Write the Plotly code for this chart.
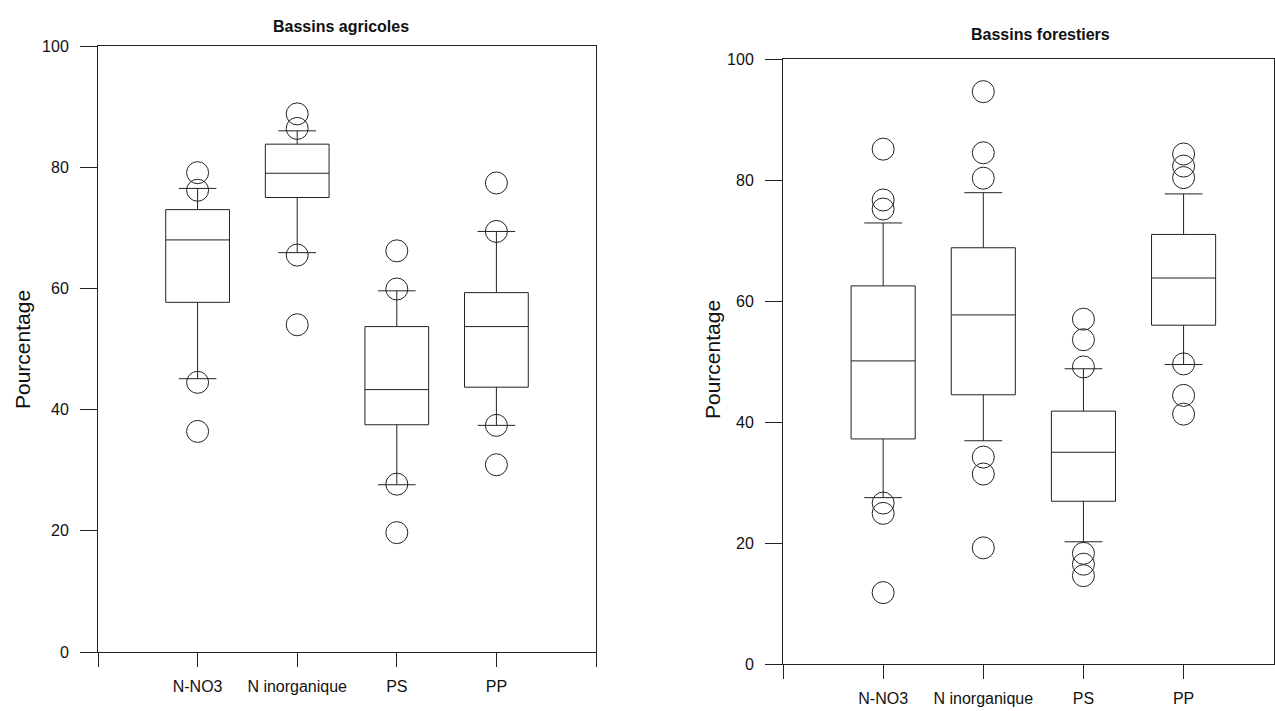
import plotly.graph_objects as go

categories = ["N-NO3", "N inorganique", "PS", "PP"]

# Bassins agricoles
agr_q1 = [57.7, 75.0, 37.5, 43.7]
agr_median = [68.0, 79.0, 43.3, 53.7]
agr_q3 = [73.0, 83.8, 53.7, 59.3]
agr_low = [45.1, 65.9, 27.6, 37.4]
agr_high = [76.5, 86.0, 59.6, 69.4]
agr_out_cat = [0, 0, 0, 0, 1, 1, 1, 1, 2, 2, 2, 2, 3, 3, 3, 3]
agr_out_val = [79.1, 76.2, 44.5, 36.4, 88.8, 86.4, 65.5, 54.0,
               66.2, 59.9, 27.7, 19.7, 77.4, 69.4, 37.4, 30.9]

# Bassins forestiers
for_q1 = [37.2, 44.5, 26.9, 56.0]
for_median = [50.1, 57.7, 35.0, 63.8]
for_q3 = [62.5, 68.8, 41.8, 71.0]
for_low = [27.5, 36.9, 20.2, 49.5]
for_high = [72.9, 77.9, 48.8, 77.7]
for_out_cat = [0, 0, 0, 0, 0, 0, 1, 1, 1, 1, 1, 1, 2, 2, 2, 2, 2, 2, 3, 3, 3, 3, 3, 3]
for_out_val = [85.1, 76.7, 75.2, 26.6, 24.9, 11.8,
               94.6, 84.5, 80.3, 34.2, 31.4, 19.2,
               57.0, 53.6, 49.1, 18.3, 16.5, 14.6,
               84.3, 82.3, 80.4, 49.6, 44.4, 41.3]

y_ticks = [0, 20, 40, 60, 80, 100]

FONT = "Liberation Sans, Arial, sans-serif"
INK = "#222222"
W, H = 1275, 711

fig = go.Figure()
pos = list(range(len(categories)))


def add_panel(q1, med, q3, lo, hi, oc, ov, xa, ya):
    fig.add_trace(go.Box(
        x=pos, q1=q1, median=med, q3=q3, lowerfence=lo, upperfence=hi,
        width=0.64, whiskerwidth=0.59, boxpoints=False,
        fillcolor="white", line=dict(color=INK, width=1),
        xaxis=xa, yaxis=ya, showlegend=False, hoverinfo="skip"))
    fig.add_trace(go.Scatter(
        x=oc, y=ov, mode="markers",
        marker=dict(symbol="circle-open", size=22, color=INK,
                    line=dict(color=INK, width=1)),
        xaxis=xa, yaxis=ya, showlegend=False, hoverinfo="skip"))


add_panel(agr_q1, agr_median, agr_q3, agr_low, agr_high, agr_out_cat, agr_out_val, "x", "y")
add_panel(for_q1, for_median, for_q3, for_low, for_high, for_out_cat, for_out_val, "x2", "y2")

tickvals_x = [-1] + pos + [4]
ticktext_x = [""] + categories + [""]

xcommon = dict(tickvals=tickvals_x, ticktext=ticktext_x, ticks="outside", ticklen=14,
               tickcolor=INK, showline=True, linecolor=INK, linewidth=1, mirror=True,
               showgrid=False, zeroline=False, automargin=False, ticklabelstandoff=6,
               tickfont=dict(family=FONT, size=16, color="#111"))
ycommon = dict(range=[0, 100], tickvals=y_ticks, ticks="outside", ticklen=17,
               tickcolor=INK, showline=True, linecolor=INK, linewidth=1, mirror=True,
               showgrid=False, zeroline=False, ticklabelstandoff=8, automargin=False,
               tickfont=dict(family=FONT, size=16, color="#111"))


def fx(px):
    return px / W


def fy(py):
    return (H - py) / H


def label(text, x, y, size, angle=0):
    return dict(text=text, x=fx(x), y=fy(y), xref="paper", yref="paper",
                xanchor="center", yanchor="middle", showarrow=False, textangle=angle,
                font=dict(family=FONT, size=size, color="#111"))


fig.update_layout(
    width=W, height=H, margin=dict(l=0, r=0, t=0, b=0, autoexpand=False),
    paper_bgcolor="white", plot_bgcolor="white",
    xaxis=dict(domain=[fx(98), fx(596)], range=[-1, 4], anchor="y", **xcommon),
    yaxis=dict(domain=[fy(652), fy(46)], anchor="x", **ycommon),
    xaxis2=dict(domain=[fx(783), 0.999], range=[-1, 3.9], anchor="y2", **xcommon),
    yaxis2=dict(domain=[fy(664), fy(59)], anchor="x2", **ycommon),
    annotations=[
        label("<b>Bassins agricoles</b>", 341, 27, 16),
        label("<b>Bassins forestiers</b>", 1040, 34, 16),
        label("Pourcentage", 22, 350, 21, -90),
        label("Pourcentage", 712, 360, 21, -90),
    ],
)

fig.write_html("out.html", config={"displayModeBar": False},
               post_script="document.body.style.margin='0';document.body.style.overflow='hidden';")
